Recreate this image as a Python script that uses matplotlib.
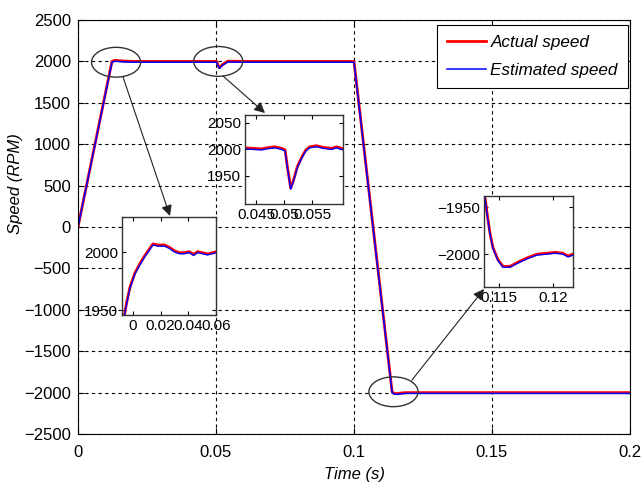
import matplotlib
matplotlib.use("Agg")
import matplotlib.pyplot as plt
from matplotlib.patches import Ellipse

plt.rcParams["font.family"] = ["Liberation Sans", "DejaVu Sans"]

# main trace (time in s, speed in rpm)
t_main = [0, 0.0123, 0.0133, 0.0145, 0.0165, 0.02, 0.0502, 0.0507, 0.0512, 0.0525,
          0.0543, 0.06, 0.1, 0.1138, 0.1145, 0.1156, 0.1175, 0.1188, 0.2]
actual_main = [0, 2000, 2012, 2010, 2004, 2000, 2000, 1960, 1925, 1966,
               2003, 2000, 2000, -1990, -2008, -2012, -2004, -2000, -2000]
estimated_main = [0, 1988, 2002, 2000, 1994, 1990, 1990, 1950, 1915, 1956,
                  1993, 1990, 1990, -2000, -2018, -2022, -2014, -2010, -2010]

# zoom 1 : start-up overshoot
t_z1 = [-0.0062, -0.0045, -0.0021, 0.0014, 0.005, 0.0086, 0.0121, 0.0145, 0.018, 0.0229,
        0.0264, 0.03, 0.0336, 0.0371, 0.0407, 0.0438, 0.0467, 0.0502, 0.0538, 0.0574, 0.0605]
actual_z1 = [1945.7, 1957, 1970, 1982, 1990, 1997, 2003, 2007, 2006, 2006,
             2004, 2001, 1999.4, 1999.4, 2000.3, 1998, 2000.3, 1999.4, 1998.3, 1999.4, 2000.3]
estimated_z1 = [1945, 1956, 1969, 1981, 1989, 1996, 2002, 2006, 2005, 2005,
                2003, 2000, 1998.5, 1998.5, 1999.5, 1997, 1999.5, 1998.5, 1997.5, 1998.5, 1999.5]

# zoom 2 : load disturbance
t_z2 = [0.04304, 0.04452, 0.04601, 0.0469, 0.0484, 0.0496, 0.0502, 0.0506, 0.0512, 0.0517,
        0.0524, 0.0532, 0.0539, 0.0546, 0.0558, 0.057, 0.0585, 0.0594, 0.0606]
actual_z2 = [2003, 2002, 2001, 2003, 2005, 2002, 1999, 1968, 1927, 1942,
             1968, 1986, 1999, 2005, 2007, 2004, 2002, 2005, 2001]
estimated_z2 = [2001, 2000, 1999, 2001, 2003, 2000, 1997, 1966, 1925, 1940,
                1966, 1984, 1997, 2003, 2005, 2002, 2000, 2003, 1999]

# zoom 3 : speed reversal
t_z3 = [0.1137, 0.11389, 0.11417, 0.11444, 0.11491, 0.11537, 0.11602, 0.11676, 0.11759,
        0.11852, 0.11944, 0.12019, 0.12093, 0.12139, 0.12185]
actual_z3 = [-1939, -1956, -1978, -1993, -2006, -2013, -2013, -2008.5, -2004,
             -2000, -1999, -1998, -1999, -2002, -2000]
estimated_z3 = [-1940, -1957, -1979, -1994, -2007, -2014, -2014, -2009.5, -2005,
                -2001, -2000, -1999, -2000, -2003, -2001]

W, H = 643, 484
fig = plt.figure(figsize=(W / 100, H / 100), dpi=100)


def px_axes(x0, y0, x1, y1):
    # pixel box (top-left origin) -> figure fraction
    return fig.add_axes([x0 / W, 1 - y1 / H, (x1 - x0) / W, (y1 - y0) / H])


ax = px_axes(78, 20, 630, 434)
ax.plot(t_main, actual_main, color="red", lw=2.0, label="Actual speed")
ax.plot(t_main, estimated_main, color="blue", lw=1.1, label="Estimated speed")
ax.set_xlim(0, 0.2)
ax.set_ylim(-2500, 2500)
ax.set_xticks([0, 0.05, 0.1, 0.15, 0.2])
ax.set_xticklabels(["0", "0.05", "0.1", "0.15", "0.2"])
ax.set_yticks(range(-2500, 2501, 500))
ax.grid(True, color="black", linestyle=(0, (3, 3)), linewidth=0.8)
ax.tick_params(direction="in", top=True, right=True, length=4, labelsize=12)
ax.tick_params(axis="x", pad=8)
ax.tick_params(axis="y", pad=5)
ax.set_xlabel("Time (s)", fontsize=12, style="italic", labelpad=5)
ax.set_ylabel("Speed (RPM)", fontsize=12, style="italic")
ax.yaxis.set_label_coords(-0.10, 0.604)
for s in ax.spines.values():
    s.set_linewidth(0.8)

leg = ax.legend(loc="upper right", bbox_to_anchor=(0.9964, 0.988), borderaxespad=0,
                prop={"style": "italic", "size": 12.3}, fancybox=False, framealpha=1,
                edgecolor="black", handlelength=2.3, handletextpad=0.25, labelspacing=0.75,
                borderpad=0.6)
leg.get_frame().set_linewidth(0.8)

# ellipses marking the zoomed regions
for cx, cy in [(0.0138, 1990), (0.0508, 2000), (0.1143, -1990)]:
    ax.add_patch(Ellipse((cx, cy), 0.0178, 360, fill=False, edgecolor="#333333",
                         lw=1.0, zorder=6))


def inset(box, t, act, est, xlim, ylim, xt, xl, yt):
    a = px_axes(*box)
    a.plot(t, act, color="red", lw=2.0)
    a.plot(t, est, color="blue", lw=1.0)
    a.set_xlim(*xlim)
    a.set_ylim(*ylim)
    a.set_xticks(xt)
    a.set_xticklabels(xl)
    a.set_yticks(yt)
    a.tick_params(direction="in", top=True, right=True, length=3, labelsize=11, pad=3)
    for s in a.spines.values():
        s.set_linewidth(1.0)
        s.set_color("#333333")
    return a


inset((122, 217, 216, 315), t_z1, actual_z1, estimated_z1, (-0.0079, 0.0593), (1946, 2030),
      [0, 0.02, 0.04, 0.06], ["0", "0.02", "0.04", "0.06"], [1950, 2000])
inset((245, 115, 343, 204), t_z2, actual_z2, estimated_z2, (0.04304, 0.06054), (1897, 2065),
      [0.045, 0.05, 0.055], ["0.045", "0.05", "0.055"], [1950, 2000, 2050])
inset((484, 196, 573, 287), t_z3, actual_z3, estimated_z3, (0.11361, 0.12185), (-2035, -1938),
      [0.115, 0.12], ["0.115", "0.12"], [-2000, -1950])

# arrows (figure pixels, origin bottom-left)
arrows = [((123, 77), (170, 216)), ((223, 76), (265, 113)), ((412, 380), (484, 289))]
for (x0, y0), (x1, y1) in arrows:
    fig.add_artist(plt.Annotation("", xy=(x1, H - y1), xytext=(x0, H - y0),
                                  xycoords="figure pixels", textcoords="figure pixels",
                                  arrowprops=dict(arrowstyle="-|>", color="#222222", lw=0.8,
                                                  mutation_scale=16, shrinkA=0, shrinkB=0)))

fig.savefig("out.png", dpi=100)
